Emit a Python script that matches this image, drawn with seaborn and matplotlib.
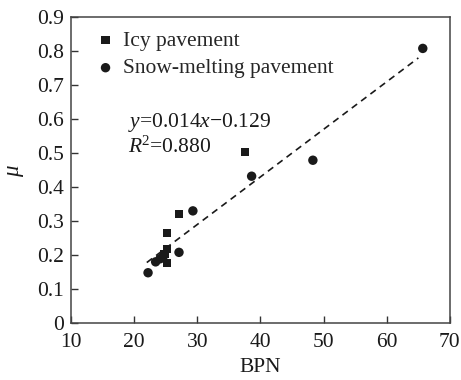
import numpy as np
import pandas as pd
import matplotlib
matplotlib.use("Agg")
import matplotlib.pyplot as plt
import seaborn as sns

sns.set_theme(style="ticks")
plt.rcParams["font.family"] = ["Liberation Serif", "DejaVu Serif"]
plt.rcParams["mathtext.fontset"] = "custom"
plt.rcParams["mathtext.rm"] = "Liberation Serif"
plt.rcParams["mathtext.it"] = "Liberation Serif:italic"

# Measured friction data
icy_bpn = [37.6, 27.1, 25.2, 25.2, 25.2, 24.8]
icy_mu = [0.503, 0.321, 0.265, 0.218, 0.178, 0.205]
snow_bpn = [65.7, 48.3, 38.6, 29.3, 27.1, 22.2, 23.4, 24.1, 24.6]
snow_mu = [0.809, 0.480, 0.433, 0.331, 0.209, 0.149, 0.181, 0.190, 0.197]

# Linear fit reported for all points
slope = 0.014
intercept = -0.129
r2 = 0.880
fit_range = [22.0, 65.0]

x_ticks = [10, 20, 30, 40, 50, 60, 70]
y_ticks = [0, 0.1, 0.2, 0.3, 0.4, 0.5, 0.6, 0.7, 0.8, 0.9]

icy = pd.DataFrame({"BPN": icy_bpn, "mu": icy_mu})
snow = pd.DataFrame({"BPN": snow_bpn, "mu": snow_mu})

ink = "#1a1a1a"
fig = plt.figure(figsize=(4.61, 3.80), dpi=100)
ax = fig.add_axes([0.154, 0.149, 0.822, 0.805])

sns.scatterplot(data=icy, x="BPN", y="mu", marker="s", color=ink, s=34,
                edgecolor="none", linewidth=0, ax=ax, zorder=3, label="Icy pavement")
sns.scatterplot(data=snow, x="BPN", y="mu", marker="o", color=ink, s=46,
                edgecolor="none", linewidth=0, ax=ax, zorder=3, label="Snow-melting pavement")

fx = np.array(fit_range)
ax.plot(fx, slope * fx + intercept, ls=(0, (4, 3)), color=ink, lw=1.2, zorder=2)

ax.text(19.0, 0.577, rf"$y$={slope:.3f}$x$$-${abs(intercept):.3f}", fontsize=15.5,
        ha="left", va="baseline", color=ink)
ax.text(19.0, 0.503, rf"$R$$^2$={r2:.3f}", fontsize=15.5,
        ha="left", va="baseline", color=ink)

ax.set_xlim(10, 70)
ax.set_ylim(0, 0.9)
ax.set_xticks(x_ticks)
ax.set_xticklabels([str(v) for v in x_ticks])
ax.set_yticks(y_ticks)
ax.set_yticklabels(["0"] + [f"{v:.1f}" for v in y_ticks[1:]])
ax.set_xlabel("BPN", fontsize=15.5, color=ink, labelpad=4)
ax.set_ylabel(r"$\mu$", fontsize=16.5, color=ink, labelpad=8)

ax.tick_params(direction="in", length=5, width=1, colors="#333333", labelsize=15.5,
               labelcolor=ink, top=False, right=False)
ax.tick_params(axis="x", pad=7)
ax.tick_params(axis="y", pad=5)
for sp in ax.spines.values():
    sp.set_visible(True)
    sp.set_color("#444444")
    sp.set_linewidth(1.1)

leg = ax.legend(loc="upper left", frameon=False, fontsize=15.5, title=None,
                handletextpad=0.3, borderaxespad=0.0, labelspacing=0.35,
                handlelength=1.0, bbox_to_anchor=(0.04, 0.985))

fig.savefig("out.png", dpi=100)
